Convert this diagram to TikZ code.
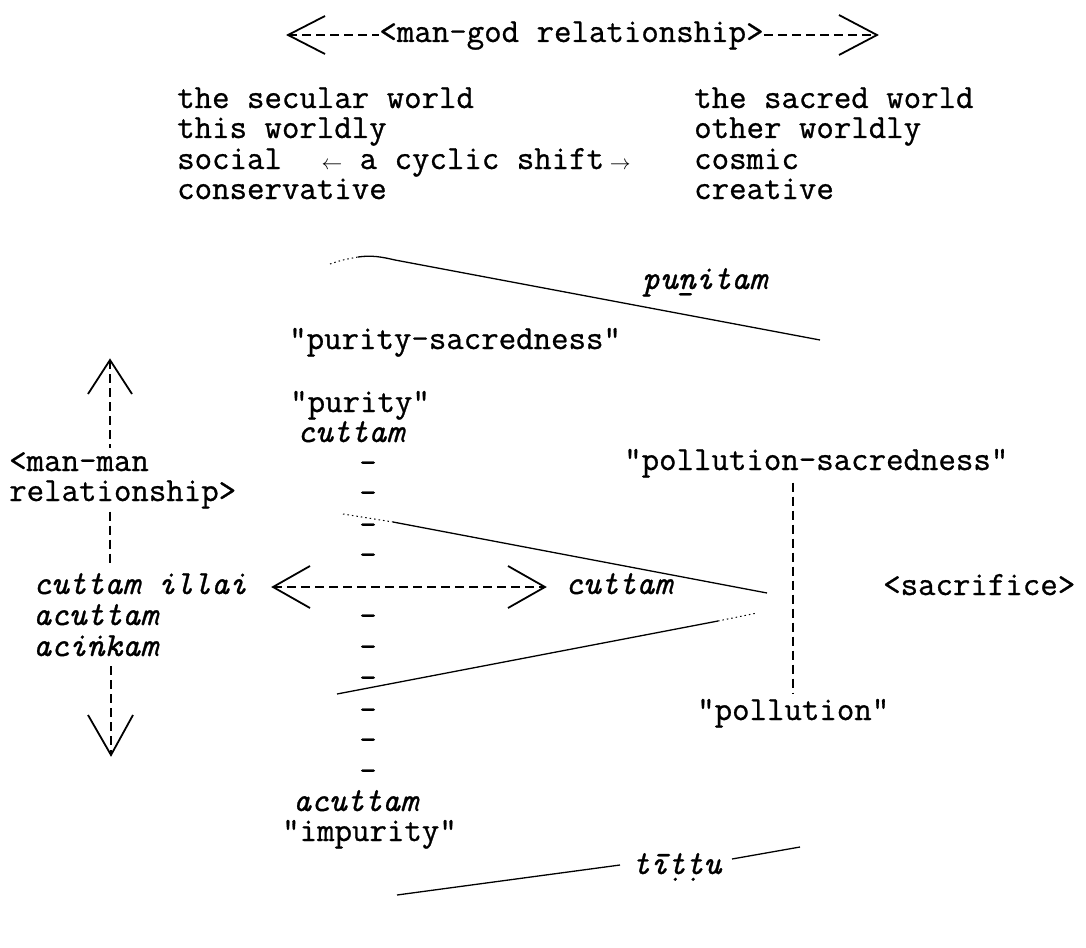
\documentclass[tikz,border=0pt]{standalone}
\usepackage{fontspec}
\newfontfamily\twfont[FakeBold=0.8]{Latin Modern Mono}
\newcommand\tw{\fontsize{33.9}{30}\selectfont\twfont}
\newcommand\sarr[1]{{\fontsize{20}{20}\selectfont$#1$}}
\begin{document}
\begin{tikzpicture}[x=1pt,y=-1pt,
  txt/.style={inner sep=0pt, anchor=base west, font=\tw},
  itx/.style={txt, font=\tw\itshape},
  dl/.style={line width=1.6pt, dash pattern=on 9pt off 5pt},
  sl/.style={line width=1.3pt},
  dotl/.style={line width=1pt, dash pattern=on 1.5pt off 3pt},
  chev/.style={line width=1.8pt}]
\fill[white] (0,0) rectangle (1086,947);
\useasboundingbox (0,0) rectangle (1086,947);

% top double arrow
\node[txt,anchor=base] (mg) at (571.5,42) {<man-god relationship>};
\coordinate (tl) at (288,35);
\coordinate (tr) at (877,35);
\draw[dl] (tl) -- (tl -| mg.west);
\draw[dl] (tr -| mg.east) -- (tr);
\draw[chev] (tl) ++(37,-19) -- (tl) -- ++(37,19);
\draw[chev] (tr) ++(-38,-20) -- (tr) -- ++(-38,20);

% the two worlds
\node[txt] (l1) at (177,108) {the secular world};
\node[txt] (l2) at (177,138) {this worldly};
\node[txt] (l3) at (177,169) {social};
\node[txt] (l4) at (177,199) {conservative};
\node[txt] (r1) at (694,108) {the sacred world};
\node[txt] (r2) at (694,138) {other worldly};
\node[txt] (r3) at (694,169) {cosmic};
\node[txt] (r4) at (694,199) {creative};
\node[txt,anchor=base] (cs) at (476,169) {\sarr\leftarrow{} a cyclic shift\,\sarr\rightarrow};

% punitam curve
\coordinate (p0) at (330,264);
\coordinate (p1) at (358,257);
\coordinate (p2) at (395,260);
\coordinate (p3) at (820,340);
\draw[dotl] (p0) .. controls (342,260) .. (p1);
\draw[sl] (p1) .. controls (372,255) and (382,257) .. (p2) -- (p3);
\node[itx] (pn) at (642,289) {puṉitam};

\node[txt] (psac) at (289,349) {"purity-sacredness"};

% left vertical arrow
\coordinate (vu) at (110,360);
\coordinate (vd) at (111,755);
\node[txt] (mm1) at (9,471) {<man-man};
\node[txt] (mm2) at (9,501) {relationship>};
\node[itx] (ci) at (33,594) {cuttam illai};
\node[itx] (ac1) at (33,625) {acuttam};
\node[itx] (ak) at (33,656) {aciṅkam};
\draw[dl,shorten >=4pt] (vu) -- (vu |- mm1.north);
\draw[dl,shorten <=3pt,shorten >=6pt] (vu |- mm2.south) -- (vu |- ci.north);
\draw[dl,shorten <=10pt] (vd |- ak.south) -- (vd);
\draw[chev] (vu) ++(-22,34) -- (vu) -- ++(22,34);
\draw[chev] (vd) ++(-23,-40) -- (vd) -- ++(22,-40);

% purity column
\node[txt] (pu) at (290,412) {"purity"};
\node[itx] (cu1) at (297,442) {cuttam};
\foreach \y [count=\i] in {473,503,535,565,626,657,688,720,750,781}
  \node[txt,anchor=base] (d\i) at (368,\y) {-};

% horizontal arrow
\node[itx] (cu2) at (565,594) {cuttam};
\coordinate (hl) at (273,587);
\coordinate (hr) at (545,587);
\draw[dl] (hl) -- (hr);
\draw[chev] (hl) ++(37,-21) -- (hl) -- ++(37,21);
\draw[chev] (hr) ++(-37,-21) -- (hr) -- ++(-37,21);

% converging lines
\coordinate (u0) at (343,514);
\coordinate (u1) at (393,522);
\coordinate (u2) at (767,593);
\coordinate (w0) at (337,694);
\coordinate (w1) at (718,621);
\coordinate (w2) at (757,613);
\draw[dotl] (u0) -- (u1);
\draw[sl] (u1) -- (u2);
\draw[sl] (w0) -- (w1);
\draw[dotl] (w1) -- (w2);

% pollution
\node[txt] (pls) at (624,470) {"pollution-sacredness"};
\node[txt] (pol) at (697,720) {"pollution"};
\draw[dl,shorten <=5pt,shorten >=6pt] (pol.north |- pls.south) -- (pol.north);
\node[txt] (sac) at (883,595) {<sacrifice>};

% bottom
\node[itx] (ac2) at (293,811) {acuttam};
\node[txt] (imp) at (282,841) {"impurity"};
\node[itx] (tt) at (632,874) {tīṭṭu};
\coordinate (b0) at (397,895);
\coordinate (b1) at (620,865);
\coordinate (b2) at (732,859);
\coordinate (b3) at (800,847);
\draw[sl] (b0) -- (b1);
\draw[sl] (b2) -- (b3);
\end{tikzpicture}
\end{document}
